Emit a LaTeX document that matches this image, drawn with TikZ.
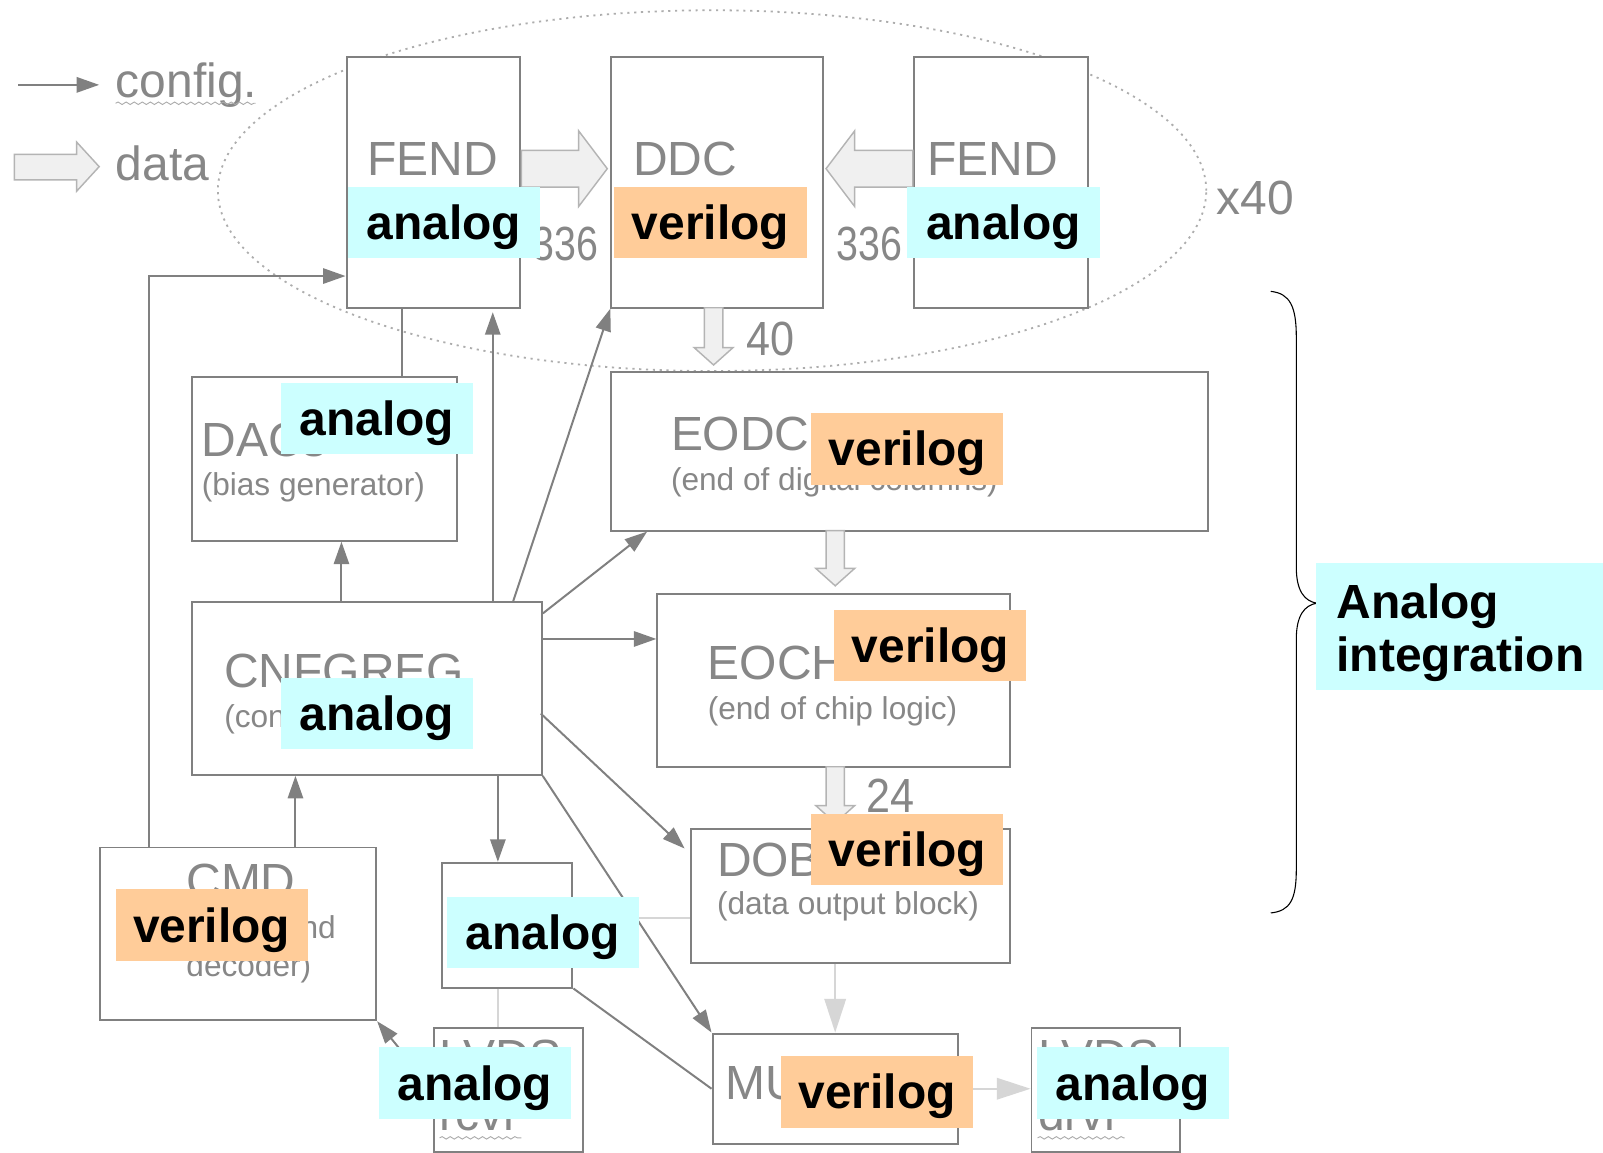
\documentclass[tikz,border=0pt]{standalone}
\usepackage{fontspec}
\usepackage{graphicx}
\setmainfont{Liberation Sans}
\usetikzlibrary{arrows.meta,calc,decorations.pathmorphing}
\definecolor{lc}{HTML}{808080}
\definecolor{tc}{HTML}{878787}
\definecolor{cy}{HTML}{CCFFFF}
\definecolor{orn}{HTML}{FFCC99}
\definecolor{lt}{HTML}{D6D6D6}
\definecolor{df}{HTML}{F0F0F0}
\definecolor{de}{HTML}{B4B4B4}
\definecolor{ell}{HTML}{ADADAD}
\begin{document}
\begin{tikzpicture}[x=0.02cm,y=-0.02cm,
 box/.style={draw=lc,line width=1.1pt,fill=white,anchor=north west,inner sep=0},
 gt/.style={text=tc,font=\fontsize{26.7}{30}\selectfont,anchor=base west,inner sep=0},
 st/.style={text=tc,font=\fontsize{17.6}{20}\selectfont,anchor=base west,inner sep=0},
 lab/.style={minimum width=3.76cm,minimum height=1.4cm,inner sep=0,text height=0.82cm,text depth=0.15cm,font=\fontsize{26.7}{30}\selectfont\bfseries,text=black},
 ana/.style={lab,fill=cy},
 ver/.style={lab,fill=orn},
 cfg/.style={draw=lc,line width=1.1pt,-{Triangle[length=0.44cm,width=0.3cm]}},
 cline/.style={draw=lc,line width=1.1pt},
 lline/.style={draw=lt,line width=1.1pt},
 larr/.style={lline,-{Triangle[length=0.66cm,width=0.42cm,fill=lt]}},
 dat/.style={draw=de,fill=df,line width=0.8pt,line join=miter},
 wavy/.style={draw=tc!70,line width=0.5pt,decorate,decoration={snake,amplitude=0.7pt,segment length=4.5pt}}
]
\useasboundingbox[fill=white] (0,0) rectangle (1568,1127);

% group ellipse
\draw[ell,line width=1pt,dash pattern=on 1.2pt off 2.6pt] (696.5,186.5) ellipse [x radius=9.67cm, y radius=3.53cm];

% legend
\coordinate (lg1) at (18,83);
\coordinate (lg2) at (97,83);
\draw[cfg] (lg1) -- (lg2);
\node[gt] (tconfig) at (113,95) {config.};
\draw[wavy] (113,101) -- (250,101);
\draw[dat] (14,151) -- (75,151) -- (75,139) -- (97,163) -- (75,187) -- (75,176) -- (14,176) -- cycle;
\node[gt] (tdata) at (113,177) {data};

% helper coordinates
\coordinate (xdac) at (393,0);
\coordinate (xfe) at (482,0);
\coordinate (xtu) at (487,0);
\coordinate (xcm) at (146,0);
\coordinate (xcc) at (289,0);
\coordinate (xcd) at (334,0);
\coordinate (yfe) at (0,270);
\coordinate (yeo) at (0,625);
\coordinate (ydob) at (0,830);
\coordinate (ytd) at (0,898);
\coordinate (cdd) at (502,588);
\coordinate (ceo) at (531,600);
\coordinate (ced) at (633,520);
\coordinate (cdb) at (529,698);

% boxes
\node[box,minimum width=3.4cm,minimum height=4.9cm] (fend1) at (338,55) {};
\node[box,minimum width=4.14cm,minimum height=4.9cm] (ddc) at (597,55) {};
\node[box,minimum width=3.4cm,minimum height=4.9cm] (fend2) at (893,55) {};
\node[box,minimum width=11.68cm,minimum height=3.1cm] (eodc) at (597,363) {};
\node[box,minimum width=6.9cm,minimum height=3.38cm] (eoch) at (642,580) {};
\node[box,minimum width=6.24cm,minimum height=2.62cm] (dob) at (675,810) {};
\node[box,minimum width=4.8cm,minimum height=2.16cm] (mux) at (696,1010) {};
\node[box,minimum width=2.9cm,minimum height=2.42cm] (lvdsd) at (1008,1005) {};
\node[box,minimum width=2.9cm,minimum height=2.42cm] (lvdsr) at (424,1005) {};
\node[box,minimum width=2.56cm,minimum height=2.44cm] (tu) at (431,843) {};
\node[box,minimum width=5.4cm,minimum height=3.38cm] (cmd) at (97,828) {};
\node[box,minimum width=6.84cm,minimum height=3.38cm] (cnf) at (187,588) {};
\node[box,minimum width=5.18cm,minimum height=3.2cm] (dac) at (187,368) {};

% config connectors
\draw[cfg] (cmd.north -| xcm) |- (fend1.west |- yfe);
\draw[cfg] (cmd.north -| xcc) -- (cnf.south -| xcc);
\draw[cfg] (cnf.north -| xcd) -- (dac.south -| xcd);
\draw[cline] (dac.north -| xdac) -- (fend1.south -| xdac);
\draw[cfg] (cnf.north -| xfe) -- ([yshift=-2pt]fend1.south -| xfe);
\draw[cfg] (cdd) -- (ddc.south west);
\draw[cfg] (ceo) -- (ced);
\draw[cfg] (cnf.east |- yeo) -- (eoch.west |- yeo);
\draw[cfg] (cdb) -- ([xshift=-3pt]dob.west |- ydob);
\draw[cfg] (cnf.south east) -- (mux.north west);
\draw[cfg] (cnf.south -| xtu) -- (tu.north -| xtu);
\draw[cfg] (lvdsr.west) -- (cmd.south east);
\draw[cline] (tu.south east) -- (mux.west);

% light connectors
\draw[lline] (tu.east |- ytd) -- (dob.west |- ytd);
\draw[lline] (tu.south -| xtu) -- (lvdsr.north -| xtu);
\draw[larr] (mux.north |- dob.south) -- (mux.north);
\draw[larr] (mux.east) -- (mux.east -| lvdsd.west);

% data arrows
\draw[dat] (510,147) -- (566,147) -- (566,128) -- (594,165) -- (566,202) -- (566,183) -- (510,183) -- cycle;
\draw[dat] (893,147) -- (836,147) -- (836,128) -- (808,165) -- (836,202) -- (836,183) -- (893,183) -- cycle;
\draw[dat] (689,301) -- (707,301) -- (707,340) -- (717,340) -- (698,357) -- (679,340) -- (689,340) -- cycle;
\draw[dat] (808,519) -- (826,519) -- (826,556) -- (836,556) -- (817,573) -- (798,556) -- (808,556) -- cycle;
\draw[dat] (808,750) -- (826,750) -- (826,788) -- (836,788) -- (817,805) -- (798,788) -- (808,788) -- cycle;

% gray texts
\node[gt] (tfe1) at (359,172) {FEND};
\node[gt] (tddc) at (619,172) {DDC};
\node[gt] (tfe2) at (907,172) {FEND};
\node[gt] (n336a) at (521,255) {\scalebox{0.82}[1]{336}};
\node[gt] (n336b) at (818,255) {\scalebox{0.82}[1]{336}};
\node[gt] (x40) at (1190,210) {x40};
\node[gt] (n40) at (730,348) {\scalebox{0.9}[1]{40}};
\node[gt] (n24) at (847,795) {\scalebox{0.9}[1]{24}};
\node[gt] (teodc) at (656,441) {EODC};
\node[st] (seodc) at (656,480) {(end of digital columns)};
\node[gt] (teoch) at (692,665) {EOCH};
\node[st] (seoch) at (692,704) {(end of chip logic)};
\node[gt] (tdob) at (701,857) {DOB};
\node[st] (sdob) at (701,895) {(data output block)};
\node[gt] (tmux) at (709,1075) {MUX};
\node[gt] (tdac) at (197,447) {DACs};
\node[st] (sdac) at (197,485) {(bias generator)};
\node[gt] (tcnf) at (219,672) {CNFGREG};
\node[st] (scnf) at (219,712) {(config. registers)};
\node[gt] (tcmd) at (182,878) {CMD};
\node[st] (scmd1) at (182,918) {(command};
\node[st] (scmd2) at (182,955) {decoder)};
\node[gt] (ttu) at (455,913) {TU};
\node[gt] (tlr) at (430,1050) {LVDS};
\node[gt] (tlr2) at (430,1106) {rcvr};
\draw[wavy] (430,1113) -- (510,1113);
\node[gt] (tld) at (1015,1050) {LVDS};
\node[gt] (tld2) at (1015,1106) {drvr};
\draw[wavy] (1015,1113) -- (1100,1113);

% labels
\node[ana] (l1) at (434,217.5) {analog};
\node[ver] (l2) at (695,217.5) {verilog};
\node[ana] (l3) at (981.5,217.5) {analog};
\node[ana] (l4) at (368.5,409.5) {analog};
\node[ver] (l5) at (887.5,439) {verilog};
\node[ver] (l6) at (910,631.5) {verilog};
\node[ana] (l7) at (368.5,698) {analog};
\node[ver] (l8) at (887.5,831) {verilog};
\node[ver] (l9) at (207,905) {verilog};
\node[ana] (l10) at (531,912) {analog};
\node[ana] (l11) at (464.5,1059.5) {analog};
\node[ver] (l12) at (858,1068) {verilog};
\node[ana] (l13) at (1108,1059.5) {analog};

% brace and summary label
\draw[black,line width=0.6pt] (1243,285) .. controls (1262,287) and (1268,300) .. (1268,330) -- (1268,555) .. controls (1268,578) and (1276,588) .. (1288,590) .. controls (1276,592) and (1268,602) .. (1268,625) -- (1268,850) .. controls (1268,880) and (1262,891) .. (1243,893);
\node[fill=cy,minimum width=5.62cm,minimum height=2.48cm,inner sep=0] (ai) at (1427.5,613) {};
\node[anchor=base west,inner sep=0,font=\fontsize{26.7}{30}\selectfont\bfseries] (ai1) at (1307,605) {Analog};
\node[anchor=base west,inner sep=0,font=\fontsize{26.7}{30}\selectfont\bfseries] (ai2) at (1307,657) {integration};
\end{tikzpicture}
\end{document}
